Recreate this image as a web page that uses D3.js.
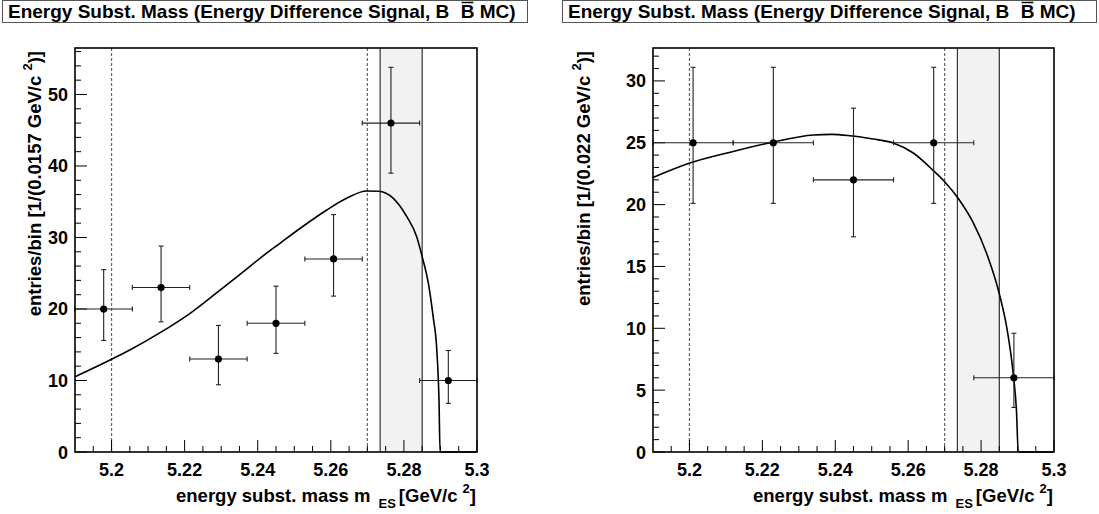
<!DOCTYPE html>
<html><head><meta charset="utf-8">
<script src="https://cdn.jsdelivr.net/npm/d3@7"></script>
<style>
html,body{margin:0;padding:0;background:#fff;}
svg text{font-family:"Liberation Sans",Arial,Helvetica,sans-serif;font-weight:bold;fill:#000;}
</style></head>
<body>
<svg id="c" width="1099" height="514"></svg>
<script>
// ---------- data ----------
const titleText = "Energy Subst. Mass (Energy Difference Signal, B ";
const xTicks = [5.2, 5.22, 5.24, 5.26, 5.28, 5.3];
const xDomain = [5.19, 5.30];
const sidebandLines = [5.2, 5.27];
const signalBand = [5.2735, 5.285];

const leftEdges = [5.19, 5.2057, 5.2214, 5.2371, 5.2529, 5.2686, 5.2843, 5.30];
const leftValues = [20, 23, 13, 18, 27, 46, 10];
const leftErrLow = [15.6, 18.2, 9.4, 13.8, 21.8, 39.0, 6.8];
const leftErrHigh = [25.5, 28.8, 17.7, 23.2, 33.2, 53.8, 14.2];
const leftYTicks = [0, 10, 20, 30, 40, 50];
const leftYMax = 56.5;
const leftCurveX = [5.19, 5.1996, 5.2050, 5.2133, 5.2215, 5.2288, 5.2361, 5.2406, 5.2461, 5.2525, 5.2589, 5.2643, 5.2698, 5.2730, 5.2771, 5.2808, 5.2835, 5.2850, 5.2867, 5.2880, 5.2890, 5.2896, 5.2899, 5.30];
const leftCurveY = [10.53, 12.87, 14.27, 16.69, 19.40, 22.28, 25.22, 27.09, 29.19, 31.61, 33.85, 35.48, 36.50, 36.46, 35.48, 32.91, 30.11, 27.31, 23.59, 18.92, 14.27, 7.27, 0, 0];

const rightEdges = [5.19, 5.212, 5.234, 5.256, 5.278, 5.30];
const rightValues = [25, 25, 22, 25, 6];
const rightErrLow = [20.1, 20.1, 17.4, 20.1, 3.6];
const rightErrHigh = [31.1, 31.1, 27.8, 31.1, 9.6];
const rightYTicks = [0, 5, 10, 15, 20, 25, 30];
const rightYMax = 32.66;
const rightCurveX = [5.19, 5.2001, 5.2120, 5.2230, 5.2340, 5.2390, 5.2440, 5.2504, 5.2559, 5.2614, 5.2669, 5.2700, 5.2737, 5.2779, 5.2815, 5.2852, 5.2870, 5.2888, 5.2897, 5.2902, 5.30];
const rightCurveY = [22.19, 23.36, 24.30, 25.06, 25.63, 25.68, 25.57, 25.30, 24.98, 24.17, 22.75, 21.85, 20.51, 18.5, 16.07, 12.56, 10.13, 6.36, 3.38, 0, 0];

const panels = [
  {ox:0, frame:[75,477], box:[2,527], binLabel:"0.0157", edges:leftEdges, vals:leftValues, lo:leftErrLow, hi:leftErrHigh,
   yTicks:leftYTicks, yMax:leftYMax, yMinor:2, cx:leftCurveX, cy:leftCurveY},
  {ox:549, frame:[653,1054], box:[562,1096], binLabel:"0.022", edges:rightEdges, vals:rightValues, lo:rightErrLow, hi:rightErrHigh,
   yTicks:rightYTicks, yMax:rightYMax, yMinor:1, cx:rightCurveX, cy:rightCurveY}
];

const svg = d3.select("#c");
const fTop = 48, fBottom = 452;

panels.forEach(p => {
  const g = svg.append("g");
  const x = d3.scaleLinear().domain(xDomain).range(p.frame);
  const y = d3.scaleLinear().domain([0, p.yMax]).range([fBottom, fTop]);
  const [x0, x1] = p.frame;

  // signal band
  g.append("rect").attr("x", x(signalBand[0])).attr("y", fTop)
    .attr("width", x(signalBand[1]) - x(signalBand[0])).attr("height", fBottom - fTop)
    .attr("fill", "#f2f2f2");
  signalBand.forEach(v => g.append("line").attr("x1", x(v)).attr("x2", x(v)).attr("y1", fTop).attr("y2", fBottom)
    .attr("stroke", "#333").attr("stroke-width", 1.2));
  // sideband dotted lines
  sidebandLines.forEach(v => g.append("line").attr("x1", x(v)).attr("x2", x(v)).attr("y1", fTop).attr("y2", fBottom)
    .attr("stroke", "#666").attr("stroke-width", 1.2).attr("stroke-dasharray", "3,2"));

  // ticks x
  const xMinor = d3.range(5.195, 5.3001, 0.005);
  xMinor.forEach(v => {
    const major = xTicks.some(t => Math.abs(t - v) < 1e-6);
    g.append("line").attr("x1", x(v)).attr("x2", x(v)).attr("y1", fBottom).attr("y2", fBottom - (major ? 12 : 6))
      .attr("stroke", "#000").attr("stroke-width", 1);
  });
  xTicks.forEach(v => g.append("text").attr("x", x(v)).attr("y", fBottom + 24).attr("text-anchor", "middle")
    .attr("font-size", 18).text(d3.format("")(v)));

  // ticks y
  const yMinorVals = d3.range(0, p.yMax, p.yMinor);
  yMinorVals.forEach(v => {
    const major = p.yTicks.some(t => Math.abs(t - v) < 1e-6);
    g.append("line").attr("x1", x0).attr("x2", x0 + (major ? 12 : 6)).attr("y1", y(v)).attr("y2", y(v))
      .attr("stroke", "#000").attr("stroke-width", 1);
  });
  p.yTicks.forEach(v => g.append("text").attr("x", x0 - 7).attr("y", y(v) + 6.5).attr("text-anchor", "end")
    .attr("font-size", 18).text(v));

  // curve
  const pts = p.cx.map((v, i) => [v, p.cy[i]]);
  g.append("path").datum(pts)
    .attr("d", d3.line().x(d => x(d[0])).y(d => y(d[1])).curve(d3.curveMonotoneX))
    .attr("fill", "none").attr("stroke", "#000").attr("stroke-width", 1.6);

  // data points with errors
  p.vals.forEach((v, i) => {
    const a = p.edges[i], b = p.edges[i + 1], c = (a + b) / 2;
    const eg = g.append("g").attr("stroke", "#222").attr("stroke-width", 1.1);
    eg.append("line").attr("x1", x(a)).attr("x2", x(b)).attr("y1", y(v)).attr("y2", y(v));
    eg.append("line").attr("x1", x(c)).attr("x2", x(c)).attr("y1", y(p.lo[i])).attr("y2", y(p.hi[i]));
    [a, b].forEach(e => eg.append("line").attr("x1", x(e)).attr("x2", x(e)).attr("y1", y(v) - 2.5).attr("y2", y(v) + 2.5));
    [p.lo[i], p.hi[i]].forEach(e => eg.append("line").attr("x1", x(c) - 2.5).attr("x2", x(c) + 2.5).attr("y1", y(e)).attr("y2", y(e)));
    g.append("circle").attr("cx", x(c)).attr("cy", y(v)).attr("r", 3.6).attr("fill", "#000");
  });

  // frame
  g.append("rect").attr("x", x0).attr("y", fTop).attr("width", x1 - x0).attr("height", fBottom - fTop)
    .attr("fill", "none").attr("stroke", "#000").attr("stroke-width", 1.6);

  // title box
  const [b0, b1] = p.box;
  g.append("rect").attr("x", b0 + 0.5).attr("y", 0.5).attr("width", b1 - b0).attr("height", 22)
    .attr("fill", "#fff").attr("stroke", "#555").attr("stroke-width", 1);
  const tt = g.append("text").attr("x", b0 + 6).attr("y", 18).attr("font-size", 19);
  tt.append("tspan").text(titleText);
  const bar = tt.append("tspan").attr("dx", 6).text("B");
  tt.append("tspan").text(" MC)");
  const bb = bar.node().getBBox();
  g.append("line").attr("x1", bb.x + 1).attr("x2", bb.x + bb.width - 1).attr("y1", bb.y + 1.5).attr("y2", bb.y + 1.5)
    .attr("stroke", "#000").attr("stroke-width", 1.5);

  // x title
  const xt = g.append("text").attr("x", x1 - 1).attr("y", 502).attr("text-anchor", "end").attr("font-size", 18.5);
  xt.append("tspan").text("energy subst. mass m ");
  xt.append("tspan").attr("font-size", 13).attr("dx", 3).attr("dy", 6).text("ES");
  xt.append("tspan").attr("dx", 3).attr("dy", -6).text("[GeV/c ");
  xt.append("tspan").attr("font-size", 13).attr("dy", -9).text("2");
  xt.append("tspan").attr("dy", 9).text("]");

  // y title
  const yt = g.append("text").attr("transform", `translate(${p.ox + 41},${fTop + 3}) rotate(-90)`)
    .attr("text-anchor", "end").attr("font-size", 18.5);
  yt.append("tspan").text(`entries/bin [1/(${p.binLabel} GeV/c `);
  yt.append("tspan").attr("font-size", 13).attr("dy", -9).text("2");
  yt.append("tspan").attr("dy", 9).text(")]");
});
</script>
</body></html>
